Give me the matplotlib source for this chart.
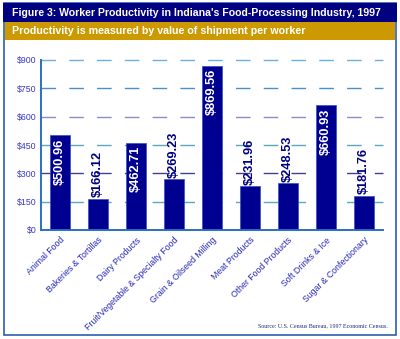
import matplotlib
matplotlib.use("Agg")
import matplotlib.pyplot as plt
from matplotlib.patches import Rectangle

categories = ["Animal Food", "Bakeries & Tortillas", "Dairy Products",
              "Fruit/Vegetable & Specialty Food", "Grain & Oilseed Milling",
              "Meat Products", "Other Food Products", "Soft Drinks & Ice",
              "Sugar & Confectionary"]
values = [500.96, 166.12, 462.71, 269.23, 869.56, 231.96, 248.53, 660.93, 181.76]
yticks = [0, 150, 300, 450, 600, 750, 900]
ytick_labels = ["$0", "$150", "$300", "$450", "$600", "$750", "$900"]
grid_colors = {150: "#5fa8c0", 300: "#404090", 450: "#5aa8b8",
               600: "#8c8cc8", 750: "#4a90c8", 900: "#6ab0e0"}

W, H = 400, 339
fig = plt.figure(figsize=(W / 100, H / 100), dpi=100)
fig.patch.set_facecolor("white")

def px(x, y):
    return x / W, 1 - y / H

# frame
x0, y0 = px(4, 335)
fig.patches.append(Rectangle((x0, y0), 392 / W, 332 / H, transform=fig.transFigure,
                             facecolor="white", edgecolor="#2e5fb0", linewidth=1.2,
                             zorder=-3))
# title band
bx, by = px(3, 22)
fig.patches.append(Rectangle((bx, by), 394 / W, 19 / H, transform=fig.transFigure,
                             facecolor="#000080", edgecolor="none", zorder=-2))
gx, gy = px(5, 40)
fig.patches.append(Rectangle((gx, gy), 390 / W, 18 / H, transform=fig.transFigure,
                             facecolor="#cc9900", edgecolor="none", zorder=-2))
tx, ty = px(12, 12.5)
fig.text(tx, ty, "Figure 3: Worker Productivity in Indiana's Food-Processing Industry, 1997",
         color="white", fontsize=7.6, fontweight="bold", family="Liberation Sans",
         va="center", ha="left")
sx, sy = px(12, 31)
fig.text(sx, sy, "Productivity is measured by value of shipment per worker",
         color="white", fontsize=7.7, fontweight="bold", family="Liberation Sans",
         va="center", ha="left")
cx, cy = px(388, 326)
fig.text(cx, cy, "Source: U.S. Census Bureau, 1997 Economic Census.",
         color="#1a2a80", fontsize=4.3, family="Liberation Serif",
         va="center", ha="right")

l, b = px(41, 230)
r, t = px(383, 60)
ax = fig.add_axes([l, b, r - l, t - b])
ax.set_facecolor("none")
ax.set_xlim(-0.5, len(categories) - 0.5)
ax.set_ylim(0, 900)

for yv, c in grid_colors.items():
    ax.axhline(yv, color=c, linewidth=1.0, linestyle=(0, (10.5, 9.5)), zorder=1,
               clip_on=False)

xs = list(range(len(categories)))
ax.bar(xs, values, width=0.53, color="#000090", edgecolor="#3050c0",
       linewidth=0.5, zorder=3)

for x, v in zip(xs, values):
    lab = f"${v:.2f}"
    if v > 400:
        ax.annotate(lab, (x, v), xytext=(0, -2.5), textcoords="offset points",
                    rotation=90, ha="center", va="top", color="white",
                    fontsize=9.2, fontweight="bold", family="Liberation Sans", zorder=4)
    else:
        ax.annotate(lab, (x, v), xytext=(0, 1), textcoords="offset points",
                    rotation=90, ha="center", va="bottom", color="#000080",
                    fontsize=9.2, fontweight="bold", family="Liberation Sans", zorder=4)

ax.set_yticks(yticks)
ax.set_yticklabels(ytick_labels, color="#3838c8", fontsize=6.3, family="Liberation Sans")
ax.set_xticks(xs)
ax.set_xticklabels(categories, rotation=45, ha="right", rotation_mode="anchor",
                   color="#2828b8", fontsize=6.3, family="Liberation Sans")
ax.tick_params(axis="both", length=0, pad=3)
ax.tick_params(axis="x", pad=4)
for s in ["top", "right"]:
    ax.spines[s].set_visible(False)
for s in ["left", "bottom"]:
    ax.spines[s].set_color("#2a6fc0")
    ax.spines[s].set_linewidth(1.4)
    ax.spines[s].set_zorder(5)

fig.savefig("out.png", dpi=100)
